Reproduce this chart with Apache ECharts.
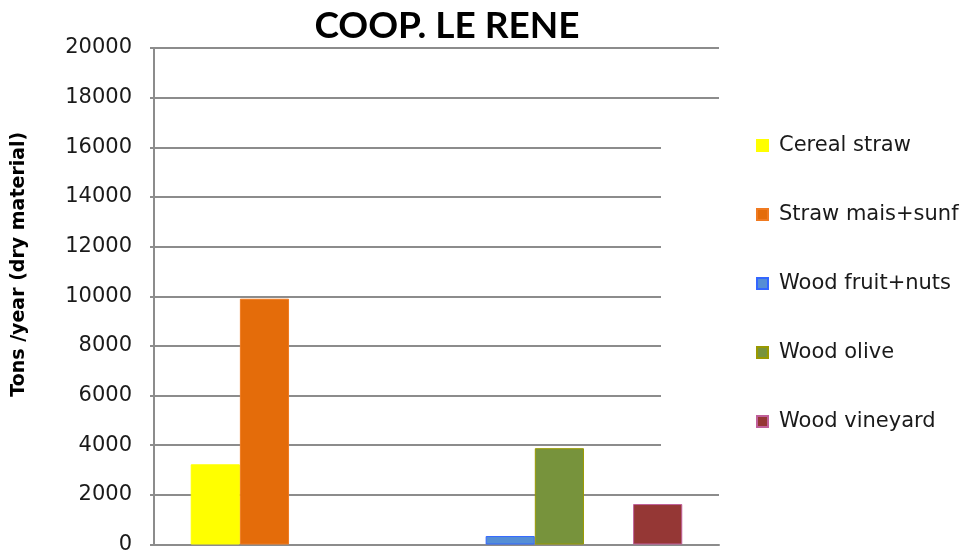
<!DOCTYPE html>
<html>
<head>
<meta charset="utf-8">
<script src="https://cdn.jsdelivr.net/npm/echarts@6/dist/echarts.min.js"></script>
<style>
  html, body { margin: 0; padding: 0; background: #fff; }
  #chart { width: 961px; height: 555px; }
</style>
</head>
<body>
<div id="chart"></div>
<script>
// one category, ten bar slots (empty slots carry no value)
var categories = ['COOP. LE RENE'];
var slotNames = ['Cereal straw', 'Straw mais+sunf', 'empty 3', 'empty 4', 'empty 5', 'empty 6',
                 'Wood fruit+nuts', 'Wood olive', 'empty 9', 'Wood vineyard'];
var slotValues = [3230, 9900, 0, 0, 0, 0, 340, 3880, 0, 1630];
var legendNames = ['Cereal straw', 'Straw mais+sunf', 'Wood fruit+nuts', 'Wood olive', 'Wood vineyard'];
var yTicks = [0, 2000, 4000, 6000, 8000, 10000, 12000, 14000, 16000, 18000, 20000];

var fills = {
  'Cereal straw': ['#FFFF00', '#FFFF00'],
  'Straw mais+sunf': ['#E46C0A', '#F07A20'],
  'Wood fruit+nuts': ['#558ED5', '#3366FF'],
  'Wood olive': ['#77933C', '#999900'],
  'Wood vineyard': ['#953735', '#C0609A']
};

var chart = echarts.init(document.getElementById('chart'));

var series = slotNames.map(function (name, i) {
  var c = fills[name] || ['#ffffff', '#ffffff'];
  return {
    name: name,
    type: 'bar',
    data: [slotValues[i]],
    barGap: '0%',
    barCategoryGap: '13%',
    itemStyle: { color: c[0], borderColor: c[1], borderWidth: fills[name] ? 1 : 0 },
    emphasis: { disabled: true }
  };
});

var option = {
  backgroundColor: '#ffffff',
  animation: false,
  title: {
    text: 'COOP. LE RENE',
    left: 442,
    textAlign: 'center',
    top: 3,
    textStyle: { fontFamily: 'Lato', fontWeight: 'bold', fontSize: 37, color: '#000' }
  },
  grid: { left: 154, right: 242, top: 48, bottom: 9, containLabel: false },
  legend: {
    data: legendNames,
    orient: 'vertical',
    left: 661,
    top: 110,
    padding: [25, 2, 30, 95],
    backgroundColor: '#ffffff',
    itemWidth: 11,
    itemHeight: 11,
    itemGap: 48,
    selectedMode: false,
    icon: 'rect',
    textStyle: { fontFamily: 'DejaVu Sans', fontSize: 21, color: '#1a1a1a', padding: [0, 0, 0, 6] }
  },
  xAxis: {
    type: 'category',
    data: categories,
    axisLabel: { show: false },
    axisTick: { show: false },
    axisLine: { lineStyle: { color: '#8c8c8c', width: 2 } }
  },
  yAxis: {
    type: 'value',
    min: yTicks[0],
    max: yTicks[yTicks.length - 1],
    interval: 2000,
    name: 'Tons /year (dry material)',
    nameLocation: 'middle',
    nameGap: 125,
    nameTextStyle: { fontFamily: 'DejaVu Sans', fontWeight: 'bold', fontSize: 19, color: '#000', padding: [0, 0, 0, 64] },
    axisLine: { show: true, lineStyle: { color: '#8c8c8c', width: 2 } },
    axisTick: { show: true, length: 4, lineStyle: { color: '#8c8c8c', width: 2 } },
    axisLabel: {
      fontFamily: 'DejaVu Sans', fontSize: 21, color: '#1a1a1a', margin: 22,
      formatter: function (v) { return String(v); }
    },
    splitLine: { lineStyle: { color: '#8c8c8c', width: 2 } }
  },
  series: series
};

chart.setOption(option);
</script>
</body>
</html>
